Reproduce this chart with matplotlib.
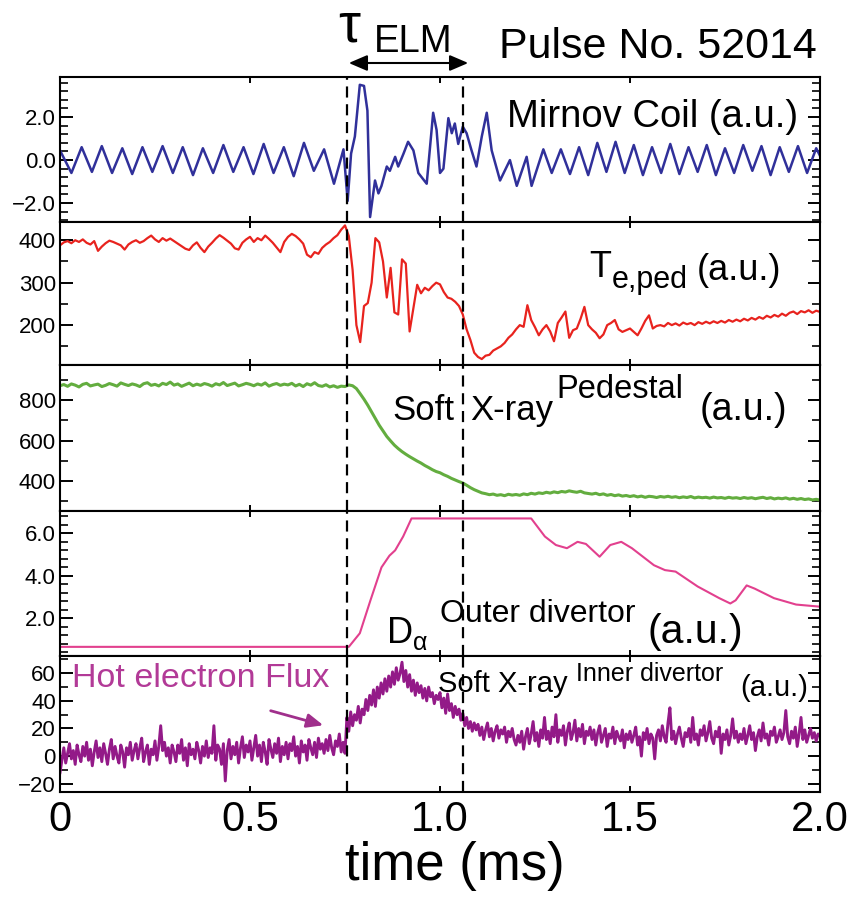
import numpy as np
import matplotlib
matplotlib.use("Agg")
import matplotlib.pyplot as plt
from matplotlib.ticker import MultipleLocator
from matplotlib.patches import FancyArrowPatch

plt.rcParams['font.family'] = ['Liberation Sans', 'DejaVu Sans']

W, H = 850, 905

# Mirnov coil, turning points (ms, a.u.)
mirnov_t = [0.000, 0.030, 0.057, 0.084, 0.110, 0.137, 0.164, 0.190, 0.217, 0.243,
            0.270, 0.297, 0.323, 0.350, 0.376, 0.403, 0.430, 0.456, 0.483, 0.509,
            0.536, 0.562, 0.589, 0.615, 0.642, 0.668, 0.695, 0.721, 0.746, 0.757,
            0.766, 0.776, 0.789, 0.800, 0.809, 0.816, 0.829, 0.838, 0.846, 0.860,
            0.868, 0.882, 0.890, 0.904, 0.916, 0.930, 0.943, 0.965, 0.982, 0.991,
            1.000, 1.009, 1.022, 1.031, 1.039, 1.048, 1.060, 1.070, 1.083, 1.096,
            1.110, 1.123, 1.136, 1.158, 1.184, 1.202, 1.228, 1.241, 1.272, 1.294,
            1.318, 1.342, 1.366, 1.390, 1.414, 1.438, 1.462, 1.486, 1.510, 1.534,
            1.558, 1.582, 1.606, 1.630, 1.654, 1.678, 1.702, 1.726, 1.750, 1.774,
            1.798, 1.822, 1.846, 1.870, 1.894, 1.918, 1.942, 1.966, 1.990, 2.000]
mirnov_v = [0.45, -0.60, 0.60, -0.55, 0.65, -0.60, 0.55, -0.65, 0.60, -0.55,
            0.65, -0.60, 0.60, -0.70, 0.55, -0.60, 0.70, -0.55, 0.60, -0.65,
            0.75, -0.60, 0.60, -0.75, 0.80, -0.50, 0.50, -1.10, 0.50, -1.90,
            0.30, 1.10, 3.50, 3.45, 2.30, -2.65, -0.95, -1.55, -1.20, -0.30,
            -0.50, 0.15, -0.30, 0.30, 0.85, 0.45, -0.60, -1.10, 2.20, 1.40,
            -0.60, -0.40, 1.95, 1.25, 1.70, 0.75, 1.55, 1.25, 0.45, -0.30,
            1.10, 2.20, 0.45, -0.95, 0.00, -1.20, 0.15, -1.20, 0.50, -0.60,
            0.50, -0.65, 0.60, -0.70, 0.80, -0.55, 0.85, -0.60, 0.70, -0.70,
            0.60, -0.60, 0.75, -0.65, 0.60, -0.55, 0.70, -0.70, 0.55, -0.60,
            0.70, -0.50, 0.65, -0.70, 0.60, -0.55, 0.65, -0.60, 0.55, 0.20]

# pedestal electron temperature, every 0.01 ms
te_ped = [388, 395, 398, 393, 400, 396, 402, 394, 390, 398,
          375, 385, 393, 399, 396, 392, 388, 378, 390, 396,
          400, 394, 398, 405, 411, 402, 396, 405, 399, 404,
          398, 392, 386, 380, 377, 388, 395, 382, 372, 385,
          394, 404, 412, 406, 399, 392, 381, 378, 394, 402,
          408, 396, 405, 400, 411, 403, 394, 383, 372, 396,
          408, 415, 410, 402, 392, 366, 360, 372, 368, 382,
          390, 396, 405, 412, 425, 435, 410, 330, 200, 160,
          245, 252, 300, 405, 395, 350, 265, 335, 230, 225,
          355, 345, 185, 240, 295, 275, 288, 282, 292, 300,
          296, 278, 265, 262, 255, 245, 225, 190, 165, 135,
          125, 120, 128, 130, 140, 145, 150, 158, 170, 178,
          190, 200, 196, 247, 212, 195, 176, 190, 200, 185,
          162, 205, 218, 232, 170, 188, 192, 215, 243, 200,
          190, 182, 169, 178, 200, 205, 212, 190, 184, 188,
          192, 184, 176, 192, 210, 223, 192, 198, 200, 197,
          205, 200, 204, 199, 206, 202, 205, 200, 207, 203,
          208, 204, 209, 205, 210, 206, 212, 208, 213, 209,
          215, 211, 217, 213, 219, 215, 222, 218, 224, 220,
          227, 222, 229, 232, 226, 233, 230, 235, 229, 234,
          231]

# pedestal soft X-ray, every 0.01 ms
sxr_ped = [872, 878, 869, 881, 875, 866, 879, 884, 871, 876,
           880, 868, 874, 883, 877, 870, 886, 879, 873, 881,
           876, 868, 882, 887, 874, 879, 871, 884, 878, 890,
           875, 881, 869, 877, 885, 872, 880, 874, 883, 878,
           870, 882, 876, 888, 873, 879, 885, 871, 877, 884,
           879, 872, 881, 875, 886, 870, 878, 883, 874, 880,
           876, 884, 871, 879, 868, 882, 875, 887, 873, 869,
           877, 866, 872, 864, 870, 868, 876, 872, 858, 832,
           805, 775, 742, 710, 676, 648, 620, 598, 577, 560,
           545, 532, 520, 509, 498, 488, 476, 466, 455, 446,
           440, 430, 422, 412, 404, 396, 389, 378, 366, 356,
           348, 340, 336, 331, 334, 328, 331, 326, 333, 329,
           332, 328, 335, 331, 338, 334, 340, 337, 343, 339,
           345, 341, 347, 344, 350, 346, 343, 348, 340, 337,
           334, 338, 331, 335, 328, 332, 326, 330, 324, 327,
           322, 326, 320, 324, 318, 323, 321, 317, 322, 319,
           323, 318, 321, 316, 320, 317, 322, 315, 319, 316,
           318, 314, 319, 315, 317, 313, 318, 314, 316, 312,
           317, 313, 316, 311, 315, 318, 312, 316, 310, 314,
           311, 315, 309, 313, 308, 312, 307, 310, 305, 308,
           304]

# outer divertor D-alpha (saturated at the top)
dalpha_t = [0.0, 0.76, 0.789, 0.817, 0.846, 0.867, 0.882, 0.903, 0.925, 1.24,
            1.276, 1.305, 1.334, 1.362, 1.384, 1.42, 1.448, 1.477, 1.505, 1.563,
            1.592, 1.62, 1.678, 1.735, 1.764, 1.778, 1.807, 1.828, 1.879, 1.937, 2.0]
dalpha_v = [0.66, 0.66, 1.3, 2.85, 4.4, 4.95, 5.2, 5.85, 6.7, 6.7,
            5.85, 5.45, 5.3, 5.6, 5.5, 4.9, 5.45, 5.6, 5.3, 4.5,
            4.27, 4.2, 3.5, 2.95, 2.7, 2.85, 3.55, 3.4, 2.95, 2.65, 2.55]

# inner divertor soft X-ray, every 0.005 ms
hot_flux = [-12, -3, 6, -5, 2, 9, -2, 4, -6, 8, 1, -4, 7, 0, 10, -3, 5, -7, 3, 11,
            -1, 6, -4, 9, 2, -6, 5, 12, -2, 7, 0, -5, 8, 3, -8, 6, 1, 10, -3, 4,
            9, -2, 6, 13, -4, 3, 8, -6, 5, 1, 11, -3, 7, 22, 4, 10, 0, 6, -5, 8,
            3, -4, 8, 2, 12, -3, 6, -7, 9, 1, 5, -2, 10, 4, -5, 7, 0, 11, -1, 6,
            2, 22, -3, 8, 5, -6, 9, -18, 4, 12, -2, 7, 1, 10, -5, 6, 14, -1, 8, 3,
            11, -3, 6, 15, 0, 8, -4, 10, 3, -6, 12, 5, -1, 9, 2, 13, -4, 7, 1, 10,
            -2, 9, 4, 14, 0, 7, -5, 11, 3, 8, -3, 12, 6, 1, 10, -1, 13, 5, 9, 2,
            12, 4, 15, 6, 1, 11, 7, 16, 3, 10, 2, 28, 18, 32, 22, 30, 26, 36, 24, 34,
            30, 41, 33, 44, 37, 48, 36, 50, 42, 53, 45, 56, 47, 58, 50, 61, 52, 64, 55, 60,
            68, 54, 62, 50, 59, 47, 55, 44, 53, 46, 51, 42, 49, 40, 50, 43, 46, 38, 44, 41,
            46, 35, 42, 31, 45, 33, 38, 28, 36, 30, 34, 26, 31, 22, 28, 20, 25, 18, 24, 19,
            23, 15, 21, 12, 19, 24, 14, 20, 11, 18, 22, 13, 19, 16, 21, 10, 18, 14, 20, 12,
            8, 15, 10, 18, 5, 14, 20, 9, 16, 25, 11, 17, 7, 19, 13, 28, 12, 18, 9, 21,
            14, 30, 10, 19, 15, 22, 8, 18, 24, 12, 17, 26, 11, 20, 14, 23, 9, 18, 15, 21,
            12, 19, 8, 17, 22, 10, 15, 20, 7, 16, 13, 21, 9, 18, 14, 11, 19, 6, 16, 12,
            18, 10, 15, 21, 8, 14, 0, 17, 12, 20, 9, 16, 13, -2, 15, 19, 11, 22, 14, 10,
            24, 35, 12, 18, 9, 16, 21, 13, 7, 17, 14, 20, 10, 28, 12, 16, 8, 19, 15, 22,
            11, 17, 25, 13, 9, 18, 14, 21, 2, 16, 12, 19, 8, 15, 27, 13, 18, 10, 16, 12,
            20, 9, 15, 22, 12, 17, 4, 14, 19, 11, 24, 13, 16, 8, 18, 15, 21, 10, 14, 19,
            12, 17, 33, 14, 9, 18, 13, 21, 7, 16, 28, 12, 19, 10, 15, 20, 13, 17, 11, 16,
            15]

elm_start, elm_end = 0.756, 1.06
x_ticks = [0, 0.5, 1.0, 1.5, 2.0]
x_ticklabels = ["0", "0.5", "1.0", "1.5", "2.0"]


def px(x, y):
    # pixel position -> figure fraction
    return x / W, 1 - y / H


fig = plt.figure(figsize=(W / 100, H / 100), dpi=100)

edges = [77.5, 222, 365, 511, 656, 792]
axes = []
for top, bot in zip(edges[:-1], edges[1:]):
    ax = fig.add_axes([60 / W, 1 - bot / H, 760 / W, (bot - top) / H])
    ax.set_xlim(0, 2.0)
    ax.set_xticks(x_ticks)
    ax.tick_params(axis='x', which='both', direction='in', top=True, bottom=True,
                   length=4.5, width=1.4, labelbottom=False)
    ax.tick_params(axis='y', which='major', direction='in', left=True, right=True,
                   length=9, width=1.4, labelsize=16, pad=3)
    ax.tick_params(axis='y', which='minor', direction='in', left=True, right=True,
                   length=5.5, width=1.2)
    for s in ax.spines.values():
        s.set_linewidth(1.5)
    for t in (elm_start, elm_end):
        ax.axvline(t, color='k', lw=1.6, ls=(0, (5, 3)), zorder=3)
    axes.append(ax)
ax1, ax2, ax3, ax4, ax5 = axes

# Mirnov coil
ax1.plot(mirnov_t, mirnov_v, color='#30309a', lw=1.8, solid_joinstyle='round')
ax1.set_ylim(-2.88, 3.84)
ax1.set_yticks([-2, 0, 2], ["\u22122.0", "0.0", "2.0"])
ax1.yaxis.set_minor_locator(MultipleLocator(0.4))

# Te,ped
t_te = np.linspace(0, 2.0, len(te_ped))
ax2.plot(t_te, te_ped, color='#e8231e', lw=1.6, solid_joinstyle='round')
ax2.set_ylim(106, 443)
ax2.set_yticks([200, 300, 400])
ax2.yaxis.set_minor_locator(MultipleLocator(50))

# pedestal soft X-ray
t_sxr = np.linspace(0, 2.0, len(sxr_ped))
ax3.plot(t_sxr, sxr_ped, color='#63ad3f', lw=2.2)
ax3.set_ylim(250, 975)
ax3.set_yticks([400, 600, 800])
ax3.yaxis.set_minor_locator(MultipleLocator(100))

# D-alpha
ax4.plot(dalpha_t, dalpha_v, color='#e2408e', lw=1.5)
ax4.set_ylim(0.23, 7.05)
ax4.set_yticks([2, 4, 6], ["2.0", "4.0", "6.0"])
ax4.yaxis.set_minor_locator(MultipleLocator(0.4))

# hot electron flux
t_hot = np.linspace(0, 2.0, len(hot_flux))
ax5.plot(t_hot, hot_flux, color='#931a88', lw=2.1)
ax5.set_ylim(-26, 72.5)
ax5.set_yticks([-20, 0, 20, 40, 60], ["\u221220", "0", "20", "40", "60"])
ax5.yaxis.set_minor_locator(MultipleLocator(10))
ax5.tick_params(axis='x', labelbottom=True, labelsize=30, pad=6)
ax5.set_xticklabels(x_ticklabels)

fig.text(*px(455, 880), "time (ms)", fontsize=38, ha='center', va='baseline')

# header: ELM duration and pulse number
fig.text(*px(338, 42), "\u03c4", fontsize=40, va='baseline')
fig.text(*px(374, 52), "ELM", fontsize=27.5, va='baseline')
fig.add_artist(FancyArrowPatch(px(346, 63), px(471, 63), transform=fig.transFigure,
                               arrowstyle='<|-|>,head_length=0.7,head_width=0.3',
                               mutation_scale=16, lw=1.5, color='k'))
fig.text(*px(817, 58), "Pulse No. 52014", fontsize=31, ha='right', va='baseline')

# panel labels
fig.text(*px(798, 127), "Mirnov Coil (a.u.)", fontsize=27.5, ha='right', va='baseline')

fig.text(*px(589, 277), "T", fontsize=26, va='baseline')
fig.text(*px(612, 288), "e,ped", fontsize=22, va='baseline')
fig.text(*px(697, 280), "(a.u.)", fontsize=26, va='baseline')

fig.text(*px(392, 420), "Soft", fontsize=25, va='baseline')
fig.text(*px(470, 420), "X-ray", fontsize=25, va='baseline')
fig.text(*px(556, 398), "Pedestal", fontsize=23.5, va='baseline')
fig.text(*px(700, 420), "(a.u.)", fontsize=27, va='baseline')

fig.text(*px(387, 643), "D", fontsize=26, va='baseline')
fig.text(*px(413, 650), "\u03b1", fontsize=18, va='baseline')
fig.text(*px(440, 622), "Outer divertor", fontsize=23, va='baseline')
fig.text(*px(648, 643), "(a.u.)", fontsize=29.5, va='baseline')

fig.text(*px(72, 687), "Hot electron Flux", fontsize=24.5, color='#b23a97', va='baseline')
fig.add_artist(FancyArrowPatch(px(268, 710), px(326, 726), transform=fig.transFigure,
                               arrowstyle='-|>,head_length=0.7,head_width=0.3',
                               mutation_scale=14, lw=2, color='#a0308c'))
fig.text(*px(438, 692), "Soft X-ray", fontsize=21, va='baseline')
fig.text(*px(576, 681), "Inner divertor", fontsize=18, va='baseline')
fig.text(*px(740, 696), "(a.u.)", fontsize=21, va='baseline')

fig.savefig("out.png", dpi=100)
